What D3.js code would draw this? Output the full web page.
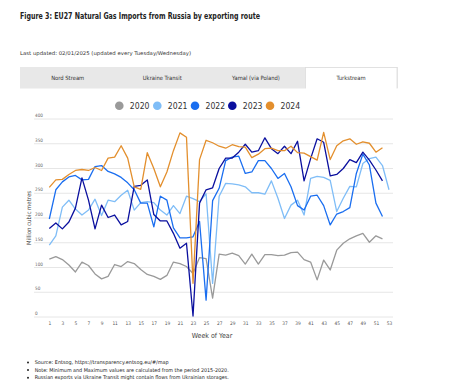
<!DOCTYPE html>
<html>
<head>
<meta charset="utf-8">
<script src="https://d3js.org/d3.v7.min.js"></script>
<style>
    body { margin: 0; background: #fff; }
    text { font-family: "DejaVu Sans Condensed", "DejaVu Sans", sans-serif; }
    .grid line { stroke: #e6e6e6; stroke-width: 1; }
    .series { fill: none; stroke-width: 1.3; stroke-linejoin: round; }
</style>
</head>
<body>
<svg id="chart"></svg>
<script>
    // ---- data
    let years = ['2020', '2021', '2022', '2023', '2024'];
    let colors = ['#9a9a9a', '#7fbdf7', '#1a6ef0', '#0a0f9e', '#e38f2d'];

    let v2020 = [117, 122, 116, 105, 91, 111, 104, 87, 77, 82, 106, 102, 112, 108, 96, 86, 82, 76, 84, 111,
        108, 102, 88, 120, 118, 38, 127, 125, 129, 124, 107, 127, 107, 126, 126, 124, 125, 130, 131, 116,
        111, 75, 115, 95, 135, 149, 158, 164, 169, 151, 164, 158];
    let v2021 = [145, 164, 222, 236, 218, 206, 216, 238, 205, 236, 233, 246, 256, 216, 231, 233, 231, 216, 206, 225,
        209, 244, 239, 233, 249, 68, 244, 270, 269, 267, 263, 251, 251, 248, 275, 240, 199, 226, 236, 206,
        280, 284, 282, 276, 213, 240, 264, 263, 310, 320, 323, 306, 257];
    let v2022 = [198, 257, 273, 283, 286, 277, 278, 304, 306, 294, 289, 282, 271, 257, 230, 230, 182, 244, 236, 180,
        160, 160, 162, 193, 34, 235, 260, 316, 323, 325, 290, 293, 316, 316, 300, 280, 290, 263, 225, 216,
        244, 246, 225, 186, 208, 213, 221, 290, 329, 307, 230, 203];
    let v2023 = [179, 190, 178, 192, 220, 281, 236, 178, 226, 201, 206, 186, 193, 264, 266, 277, 207, 194, 194, 169,
        139, 149, 2, 230, 257, 261, 300, 321, 321, 333, 349, 333, 336, 362, 340, 330, 345, 330, 355, 275,
        320, 360, 353, 285, 288, 300, 318, 312, 333, 317, 297, 275];
    let v2024 = [262, 277, 278, 288, 296, 298, 296, 302, 296, 321, 323, 346, 321, 263, 258, 332, 300, 263, 293, 336,
        372, 363, 68, 318, 357, 352, 345, 341, 348, 344, 343, 322, 329, 340, 341, 336, 336, 345, 332, 331,
        324, 317, 373, 318, 346, 356, 360, 349, 354, 351, 333, 342];

    let yTicks = [0, 50, 100, 150, 200, 250, 300, 350, 400];
    let xTicks = d3.range(1, 54, 2);
    let tabs = ['Nord Stream', 'Ukraine Transit', 'Yamal (via Poland)', 'Turkstream'];
    let notes = [
        'Source: Entsog,  https://transparency.entsog.eu/#/map',
        'Note: Minimum and Maximum values are calculated from the period 2015-2020.',
        'Russian exports via Ukraine Transit might contain flows from Ukrainian storages.'
    ];

    let seriesValues = [v2020, v2021, v2022, v2023, v2024];

    let width = 469, height = 381;
    let svg = d3.select('#chart').attr('width', width).attr('height', height);

    // title + subtitle
    svg.append('text').attr('x', 20).attr('y', 19)
        .attr('font-size', 8).attr('font-weight', 'bold').attr('fill', '#222')
        .attr('textLength', 240).attr('lengthAdjust', 'spacingAndGlyphs')
        .text('Figure 3: EU27 Natural Gas Imports from Russia by exporting route');
    svg.append('text').attr('x', 20).attr('y', 54.5)
        .attr('font-size', 5.2).attr('fill', '#333')
        .attr('textLength', 171).attr('lengthAdjust', 'spacingAndGlyphs')
        .text('Last updated: 02/01/2025 (updated every Tuesday/Wednesday)');

    // tabs
    svg.append('rect').attr('x', 20).attr('y', 67).attr('width', 378).attr('height', 21.5).attr('fill', '#e8e8e8');
    svg.append('rect').attr('x', 305.5).attr('y', 67.5).attr('width', 91.5).attr('height', 22)
        .attr('fill', '#fff').attr('stroke', '#dcdcdc').attr('stroke-width', 0.8);
    svg.append('rect').attr('x', 305).attr('y', 88.5).attr('width', 93).attr('height', 2).attr('fill', '#fff');
    let tabX = [67.7, 162.3, 256, 351];
    svg.selectAll('.tab').data(tabs).enter().append('text')
        .attr('x', (d, i) => tabX[i]).attr('y', 80.3)
        .attr('text-anchor', 'middle').attr('font-size', 5.8).attr('fill', '#333')
        .text(d => d);

    // legend
    let legendX = [119.3, 157.3, 195, 232.3, 270];
    let legend = svg.selectAll('.leg').data(years).enter().append('g')
        .attr('transform', (d, i) => `translate(${legendX[i]},105.7)`);
    legend.append('circle').attr('r', 4.3).attr('fill', (d, i) => colors[i]);
    legend.append('text').attr('x', 10.5).attr('y', 3.2)
        .attr('font-size', 8.6).attr('fill', '#333').text(d => d);

    // scales
    let x = d3.scaleLinear().domain([1, 53]).range([49.3, 389]);
    let y = d3.scaleLinear().domain([0, 400]).range([317, 119]);

    // grid
    let grid = svg.append('g').attr('class', 'grid');
    grid.selectAll('line').data(yTicks).enter().append('line')
        .attr('x1', 34).attr('x2', 393)
        .attr('y1', d => y(d)).attr('y2', d => y(d));
    svg.selectAll('.ylab').data(yTicks).enter().append('text')
        .attr('x', 35).attr('y', d => y(d) - 2)
        .attr('font-size', 4.6).attr('fill', '#666').text(d => d);

    // x axis labels
    let axisX = d3.axisBottom(x).tickValues(xTicks).tickSize(0).tickPadding(5);
    let gx = svg.append('g').attr('transform', `translate(0,${y(0)})`).call(axisX);
    gx.select('.domain').remove();
    gx.selectAll('text').attr('font-size', 4.8).attr('fill', '#555')
        .attr('font-family', '"DejaVu Sans Condensed", sans-serif');

    svg.append('text').attr('x', 212).attr('y', 337.5).attr('text-anchor', 'middle')
        .attr('font-size', 7).attr('fill', '#444').text('Week of Year');
    svg.append('text').attr('transform', 'translate(30.5,218) rotate(-90)')
        .attr('text-anchor', 'middle').attr('font-size', 6).attr('fill', '#444')
        .text('Million cubic metres');

    // lines
    let line = d3.line().x((d, i) => x(i + 1)).y(d => y(d));
    svg.append('g').selectAll('path').data(seriesValues).enter().append('path')
        .attr('class', 'series')
        .attr('stroke', (d, i) => colors[i])
        .attr('stroke-width', (d, i) => i === 4 ? 1.6 : 1.3)
        .attr('d', line);

    // footnotes
    let noteLen = [134, 194, 194];
    let notesG = svg.selectAll('.note').data(notes).enter().append('g')
        .attr('transform', (d, i) => `translate(0,${364 + i * 7.7})`);
    notesG.append('circle').attr('cx', 28).attr('cy', -1.6).attr('r', 1).attr('fill', '#222');
    notesG.append('text').attr('x', 34.7).attr('y', 0)
        .attr('font-size', 5.2).attr('fill', '#222')
        .attr('textLength', (d, i) => noteLen[i]).attr('lengthAdjust', 'spacingAndGlyphs')
        .text(d => d);
</script>
</body>
</html>
